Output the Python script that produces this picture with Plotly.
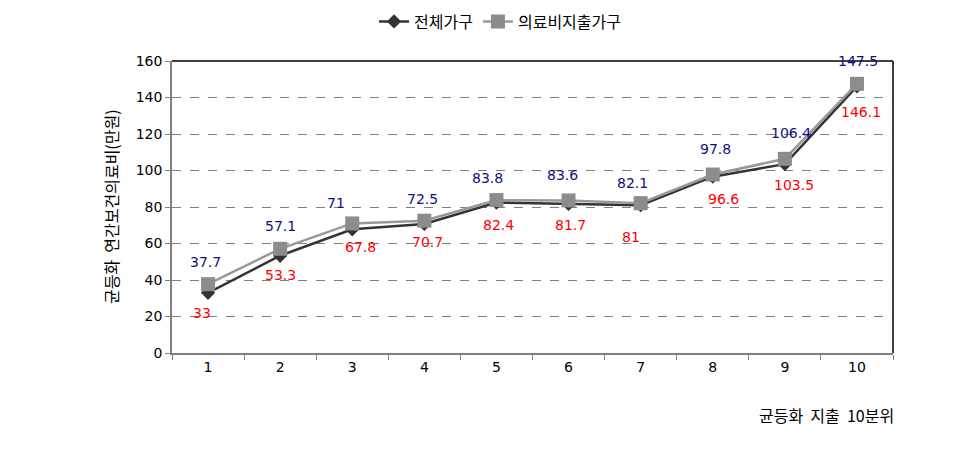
import plotly.graph_objects as go

deciles = ["1", "2", "3", "4", "5", "6", "7", "8", "9", "10"]
all_households = [33, 53.3, 67.8, 70.7, 82.4, 81.7, 81, 96.6, 103.5, 146.1]
medical_households = [37.7, 57.1, 71, 72.5, 83.8, 83.6, 82.1, 97.8, 106.4, 147.5]
all_labels = ["33", "53.3", "67.8", "70.7", "82.4", "81.7", "81", "96.6", "103.5", "146.1"]
medical_labels = ["37.7", "57.1", "71", "72.5", "83.8", "83.6", "82.1", "97.8", "106.4", "147.5"]

# label offsets in pixels (dx, dy with +dy = up)
all_dx = [-6, 0, 8, 3, 2, 2, -10, 11, 9, 4]
all_dy = [-20, -19, -18, -18, -22, -21, -32, -22, -21, -26]
med_dx = [-3, 0, -16, -2, -9, -6, -8, 3, 6, 1]
med_dy = [22, 23, 20, 22, 22, 25, 20, 26, 26, 23]

y_ticks = [0, 20, 40, 60, 80, 100, 120, 140, 160]

NUMFONT = "DejaVu Sans, Noto Sans CJK KR, sans-serif"
KRFONT = "Noto Sans CJK KR, DejaVu Sans, sans-serif"

fig = go.Figure()
fig.add_trace(go.Scatter(
    x=deciles, y=all_households, name="전체가구", mode="lines+markers",
    line=dict(color="#333333", width=2.5),
    marker=dict(symbol="diamond", size=11, color="#333333"),
))
fig.add_trace(go.Scatter(
    x=deciles, y=medical_households, name="의료비지출가구", mode="lines+markers",
    line=dict(color="#999999", width=2.5),
    marker=dict(symbol="square", size=14, color="#8c8c8c"),
))

annotations = []
for i, (yv, t, dx, dy) in enumerate(zip(all_households, all_labels, all_dx, all_dy)):
    annotations.append(dict(x=i, y=yv, text=t, showarrow=False, xshift=dx, yshift=dy,
                            xanchor="center", yanchor="middle",
                            font=dict(color="#ff0000", size=14, family=NUMFONT)))
for i, (yv, t, dx, dy) in enumerate(zip(medical_households, medical_labels, med_dx, med_dy)):
    annotations.append(dict(x=i, y=yv, text=t, showarrow=False, xshift=dx, yshift=dy,
                            xanchor="center", yanchor="middle",
                            font=dict(color="#101080", size=14, family=NUMFONT)))
annotations.append(dict(x=0, xref="paper", y=0.5, yref="paper", xshift=-61,
                        xanchor="center", yanchor="middle",
                        text="균등화  연간보건의료비(만원)", textangle=-90, showarrow=False,
                        font=dict(size=16, color="#000000", family=KRFONT)))
annotations.append(dict(x=(826 - 172) / 721, xref="paper", y=0, yref="paper", yshift=-62,
                        xanchor="center", yanchor="middle",
                        text="균등화  지출  10분위", showarrow=False,
                        font=dict(size=16, color="#000000", family=KRFONT)))

fig.update_layout(
    width=967, height=455,
    margin=dict(l=172, r=74, t=61, b=102),
    paper_bgcolor="white", plot_bgcolor="white",
    font=dict(family=NUMFONT, size=14, color="#000000"),
    showlegend=True,
    legend=dict(orientation="h", x=0.455, xanchor="center", y=0.99, yanchor="top",
                yref="container", font=dict(size=16, family=KRFONT), itemwidth=30,
                bgcolor="rgba(0,0,0,0)"),
    annotations=annotations,
    shapes=[
        dict(type="line", xref="paper", yref="paper", x0=0, x1=1, y0=1, y1=1,
             line=dict(color="#000000", width=1.5)),
        dict(type="line", xref="paper", yref="paper", x0=1, x1=1, y0=0, y1=1,
             line=dict(color="#000000", width=1.5)),
    ],
)
fig.update_xaxes(type="category", tickson="boundaries", ticks="outside", ticklen=5,
                 tickcolor="#808080", showline=True, linecolor="#808080", linewidth=1.5,
                 showgrid=False, tickfont=dict(size=14), range=[-0.5, 9.5])
fig.update_yaxes(range=[0, 160], tickvals=y_ticks, ticks="outside", ticklen=5,
                 tickcolor="#808080", showline=True, linecolor="#808080", linewidth=1.5,
                 showgrid=True, gridcolor="#808080", griddash="dash", gridwidth=1,
                 zeroline=False, tickfont=dict(size=14))

fig.write_html("out.html")
